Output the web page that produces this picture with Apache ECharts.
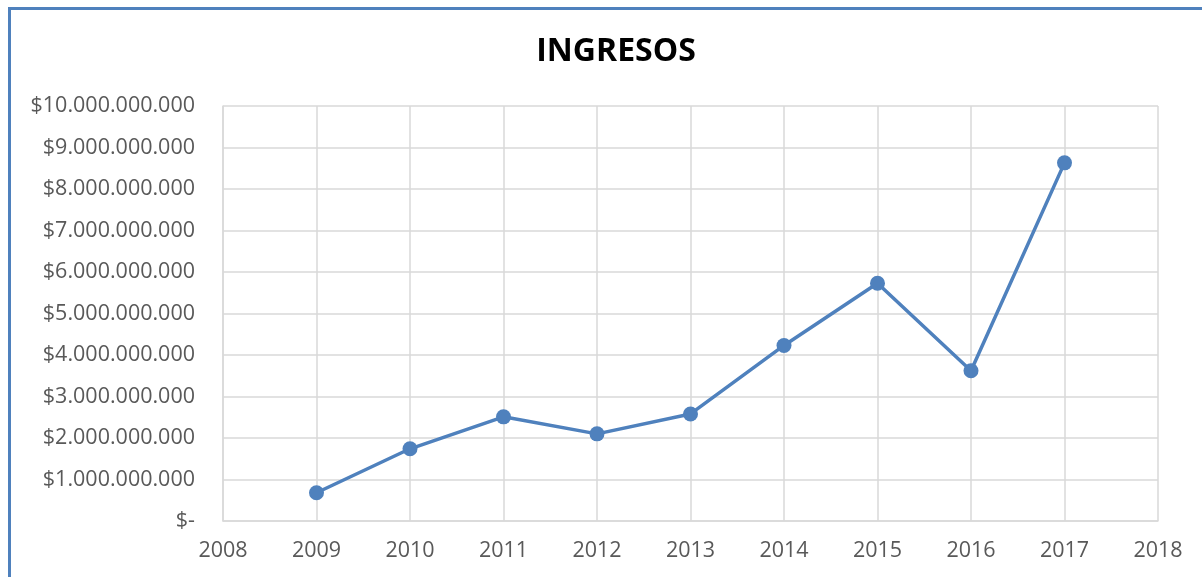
<!DOCTYPE html>
<html>
<head>
<meta charset="utf-8">
<title>INGRESOS</title>
<script src="https://cdn.jsdelivr.net/npm/echarts@6/dist/echarts.min.js"></script>
<style>
  html, body { margin: 0; padding: 0; background: #fff; overflow: hidden; }
  #mychart { width: 1202px; height: 577px; }
  .frame {
    position: absolute; left: 8px; top: 7px; width: 1300px; height: 700px;
    border-left: 3px solid #4f81bd; border-top: 3px solid #4f81bd;
    pointer-events: none;
  }
</style>
</head>
<body>
<div id="mychart"></div>
<div class="frame"></div>
<script>
// años y valores de ingresos
const years = [2009, 2010, 2011, 2012, 2013, 2014, 2015, 2016, 2017];
const ingresos = [680000000, 1740000000, 2510000000, 2100000000, 2580000000, 4230000000, 5730000000, 3620000000, 8630000000];

const xMin = 2008, xMax = 2018;
const yMax = 10000000000, yStep = 1000000000;

function money(v) {
  if (v === 0) return "$-";
  return "$" + String(Math.round(v)).replace(/\B(?=(\d{3})+(?!\d))/g, ".");
}

const chart = echarts.init(document.getElementById("mychart"));
const option = {
  animation: false,
  title: {
    text: "INGRESOS",
    left: 611,
    top: 31,
    textAlign: "center",
    textStyle: { fontFamily: "Open Sans", fontWeight: "bold", fontSize: 32, color: "#000" }
  },
  grid: { left: 223, right: 44, top: 106, bottom: 56 },
  xAxis: {
    type: "value",
    min: xMin,
    max: xMax,
    interval: 1,
    axisLine: { show: true, lineStyle: { color: "#d9d9d9", width: 1.5 } },
    axisTick: { show: false },
    splitLine: { show: true, lineStyle: { color: "#d9d9d9", width: 1.5 } },
    axisLabel: {
      formatter: v => String(v),
      margin: 19,
      color: "#595959",
      fontFamily: "Open Sans",
      fontSize: 21.5
    }
  },
  yAxis: {
    type: "value",
    min: 0,
    max: yMax,
    interval: yStep,
    axisLine: { show: true, lineStyle: { color: "#d9d9d9", width: 1.5 } },
    axisTick: { show: false },
    splitLine: { show: true, lineStyle: { color: "#d9d9d9", width: 1.5 } },
    axisLabel: {
      formatter: money,
      margin: 28,
      color: "#595959",
      fontFamily: "Open Sans",
      fontSize: 21.5
    }
  },
  series: [
    {
      name: "INGRESOS",
      type: "line",
      data: years.map((y, i) => [y, ingresos[i]]),
      symbol: "circle",
      symbolSize: 15,
      lineStyle: { color: "#4f81bd", width: 3.5 },
      itemStyle: { color: "#4f81bd" }
    }
  ]
};
chart.setOption(option);
</script>
</body>
</html>
